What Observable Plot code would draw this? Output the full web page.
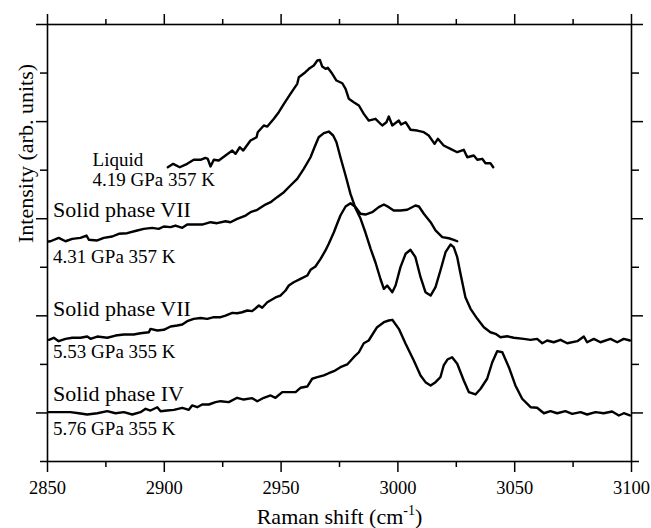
<!DOCTYPE html>
<html>
<head>
<meta charset="utf-8">
<script src="https://cdn.jsdelivr.net/npm/d3@7"></script>
<script src="https://cdn.jsdelivr.net/npm/@observablehq/plot@0.6"></script>
<style>
  html, body { margin: 0; padding: 0; background: #fff; }
</style>
</head>
<body>
<div id="chart"></div>
<script>
// Raman shift (cm-1) vs intensity (arb. units, offset spectra)
const liquid_419 = [
  [2901.5,303.0],[2903.8,306.5],[2906.6,303.0],[2909.8,306.5],[2912.6,310.7],[2915.5,310.7],[2917.6,312.7],[2918.6,311.7],
  [2919.8,303.8],[2921.2,310.7],[2923.3,309.9],[2926.2,315.1],[2929.1,320.2],[2930.5,316.8],[2932.3,323.6],[2933.8,320.2],
  [2936.9,330.5],[2939.5,333.9],[2940.0,339.1],[2942.6,346.0],[2944.1,344.9],[2946.9,352.9],[2949.0,359.7],[2951.2,368.3],
  [2954.0,378.6],[2956.9,388.9],[2957.6,395.7],[2960.4,400.9],[2961.9,404.4],[2964.0,407.8],[2965.5,412.9],[2966.6,413.6],
  [2967.6,406.7],[2969.0,404.4],[2970.0,405.4],[2971.9,399.2],[2973.7,392.3],[2976.2,389.5],[2977.6,383.8],[2979.0,373.5],
  [2981.1,370.0],[2983.3,366.6],[2985.4,358.0],[2987.5,351.1],[2990.4,352.9],[2993.3,346.0],[2995.1,349.4],[2996.1,355.2],
  [2997.6,346.0],[3000.4,351.1],[3001.4,347.0],[3003.3,349.4],[3005.4,341.6],[3008.3,340.8],[3011.1,339.1],[3013.2,335.7],
  [3015.7,327.1],[3017.1,332.3],[3019.6,325.4],[3022.5,322.0],[3025.4,318.5],[3028.2,321.0],[3029.7,313.3],[3032.5,315.1],
  [3034.0,310.7],[3036.1,311.7],[3037.5,307.2],[3039.6,307.2],[3040.8,303.0]
];
const solidVII_431 = [
  [2850.4,226.5],[2851.3,226.8],[2854.8,230.3],[2857.7,226.8],[2860.6,229.3],[2864.1,230.3],[2866.7,232.7],[2867.7,228.3],
  [2871.3,227.6],[2874.1,230.3],[2877.7,231.7],[2880.5,234.5],[2884.1,235.1],[2888.4,237.9],[2891.2,239.6],[2894.8,240.6],
  [2897.6,239.6],[2899.8,242.0],[2902.7,241.3],[2904.8,243.0],[2907.7,240.6],[2909.8,244.0],[2912.6,244.0],[2916.2,244.0],
  [2919.8,246.4],[2922.6,245.4],[2926.2,247.4],[2928.3,246.4],[2931.2,249.9],[2934.8,253.3],[2936.9,256.7],[2939.8,259.2],
  [2943.3,264.6],[2945.5,267.0],[2948.3,272.2],[2951.2,277.3],[2954.0,284.2],[2956.9,291.1],[2959.7,301.4],[2962.6,313.3],
  [2964.3,323.6],[2966.1,333.9],[2968.3,338.1],[2970.4,339.8],[2972.3,335.7],[2973.7,328.8],[2975.4,313.3],[2977.6,294.5],
  [2979.7,275.6],[2981.9,260.5],[2984.0,250.2],[2986.1,235.8],[2988.3,219.3],[2990.4,204.9],[2992.6,187.4],[2994.0,177.8],
  [2995.4,181.2],[2997.6,174.3],[2999.0,181.2],[3001.1,200.1],[3003.3,213.9],[3005.4,218.0],[3007.5,210.4],[3009.7,189.8],
  [3011.8,174.3],[3014.0,170.9],[3016.1,179.5],[3018.2,196.7],[3020.4,215.5],[3022.5,223.4],[3023.9,220.7],[3025.4,210.4],
  [3026.8,193.3],[3028.9,169.2],[3031.1,157.2],[3034.0,146.9],[3036.8,138.3],[3039.6,133.1],[3041.8,131.5],[3043.9,128.0],
  [3046.8,129.0],[3049.6,127.4],[3053.9,126.3],[3056.8,125.3],[3059.6,126.3],[3061.8,121.8],[3063.9,124.6],[3066.7,122.8],
  [3069.6,125.3],[3072.5,121.8],[3076.8,123.9],[3079.6,128.7],[3081.0,122.8],[3083.9,126.3],[3086.7,122.8],[3091.0,126.3],
  [3093.9,122.8],[3096.7,126.3],[3099.3,124.6]
];
const solidVII_553 = [
  [2850.6,125.3],[2852.7,127.4],[2854.8,123.9],[2857.7,126.3],[2860.6,127.4],[2864.1,127.4],[2867.0,128.7],[2868.4,126.3],
  [2871.3,128.7],[2875.6,127.4],[2879.1,129.7],[2882.7,130.8],[2886.9,130.8],[2889.8,132.1],[2893.4,133.1],[2894.1,136.6],
  [2897.0,134.9],[2899.8,135.6],[2902.7,139.0],[2905.5,140.0],[2907.7,141.1],[2909.8,144.5],[2912.6,146.9],[2915.5,147.8],
  [2918.4,146.9],[2921.2,148.6],[2924.1,148.6],[2926.2,150.3],[2929.1,153.1],[2931.2,152.7],[2933.3,153.7],[2935.5,155.5],
  [2937.6,154.8],[2940.5,160.6],[2941.9,158.3],[2944.1,164.0],[2947.6,168.9],[2949.7,170.9],[2951.9,176.1],[2953.3,181.2],
  [2955.4,184.6],[2958.3,188.1],[2961.2,191.5],[2962.6,197.4],[2964.7,200.8],[2966.9,208.7],[2969.0,217.3],[2970.4,224.2],
  [2972.6,236.1],[2974.0,244.8],[2975.4,253.3],[2977.6,262.6],[2979.7,266.0],[2981.9,261.9],[2984.0,255.1],[2986.1,254.3],
  [2989.0,256.7],[2991.8,261.9],[2994.0,264.6],[2996.1,261.9],[2998.2,258.5],[3001.1,258.5],[3004.0,259.2],[3007.5,263.6],
  [3009.0,262.6],[3011.1,255.1],[3014.0,246.4],[3016.1,237.9],[3019.0,231.0],[3021.8,229.9],[3023.9,228.3],[3025.4,226.8]
];
const solidIV_576 = [
  [2850.6,50.8],[2854.8,50.8],[2859.8,50.8],[2863.4,49.7],[2867.0,48.4],[2871.3,49.7],[2875.6,51.8],[2879.1,49.7],
  [2882.7,50.8],[2886.3,48.4],[2889.8,50.8],[2892.0,54.3],[2894.1,52.5],[2897.0,55.9],[2898.4,51.8],[2901.2,52.5],
  [2904.1,53.2],[2907.7,55.3],[2910.5,53.2],[2911.9,57.7],[2914.1,55.9],[2916.2,58.7],[2919.1,58.7],[2921.9,61.1],
  [2924.1,62.1],[2927.6,61.1],[2931.2,65.6],[2934.0,63.8],[2937.6,65.2],[2939.8,62.1],[2942.6,65.6],[2945.5,68.0],
  [2947.6,65.6],[2950.5,71.4],[2953.3,71.4],[2956.2,71.4],[2958.3,75.9],[2961.2,77.2],[2963.3,85.2],[2965.5,86.8],
  [2968.3,88.6],[2970.4,90.9],[2972.6,93.0],[2975.4,97.1],[2978.3,99.9],[2981.1,107.4],[2983.3,112.5],[2985.4,121.8],
  [2987.5,124.6],[2989.7,133.1],[2991.1,138.3],[2994.0,143.4],[2996.1,145.2],[2997.6,145.9],[3000.4,136.6],[3003.3,121.2],
  [3006.8,104.0],[3009.7,88.6],[3011.8,81.7],[3014.0,78.3],[3016.1,81.7],[3018.2,86.8],[3019.6,98.9],[3021.2,105.0],
  [3023.2,107.4],[3025.4,100.6],[3028.2,83.4],[3030.4,71.4],[3033.2,69.0],[3035.4,74.9],[3038.2,85.2],[3040.4,102.2],
  [3042.5,113.6],[3044.7,112.5],[3047.5,97.1],[3050.3,78.3],[3053.2,64.6],[3056.8,55.9],[3059.6,55.3],[3062.5,49.7],
  [3065.3,51.8],[3068.2,49.7],[3071.7,51.8],[3074.6,49.1],[3078.2,50.8],[3081.0,48.4],[3084.6,50.8],[3088.1,49.7],
  [3091.7,51.5],[3094.6,47.4],[3096.7,49.7],[3099.3,47.4]
];

const xTicks = [2850, 2900, 2950, 3000, 3050, 3100];
const xMinorTicks = [2875, 2925, 2975, 3025, 3075];
const yTicks = [50, 150, 250, 350, 450];
const yMinorTicks = [0, 100, 200, 300, 400];

const labelTexts = ["Liquid", "4.19 GPa 357 K", "Solid phase VII", "4.31 GPa 357 K",
                    "Solid phase VII", "5.53 GPa 355 K", "Solid phase IV", "5.76 GPa 355 K"];
const labelX = [2869.3, 2869.3, 2852.4, 2852.4, 2852.4, 2852.4, 2852.4, 2852.4];
const labelY = [304.8, 284.2, 251.6, 204.9, 150.3, 106.1, 62.8, 26.8];
const labelSize = [19, 19, 22, 19, 22, 19, 22, 19];

const seriesList = [
  ["Liquid 4.19 GPa", liquid_419],
  ["VII 4.31 GPa", solidVII_431],
  ["VII 5.53 GPa", solidVII_553],
  ["IV 5.76 GPa", solidIV_576]
];
const lineData = seriesList.flatMap(([name, pts]) => pts.map(([x, y]) => ({series: name, x, y})));
const labels = labelTexts.map((t, i) => ({text: t, x: labelX[i], y: labelY[i], size: labelSize[i]}));

const serif = "'Liberation Serif', 'Times New Roman', serif";
const xTitle = "Raman shift (cm-1)";

const chart = Plot.plot({
  width: 651,
  height: 528,
  marginLeft: 47,
  marginRight: 20,
  marginTop: 24,
  marginBottom: 67,
  style: {fontFamily: serif, background: "#fff", color: "#000", overflow: "visible"},
  x: {domain: [2850, 3100], label: null},
  y: {domain: [0, 450], label: null},
  marks: [
    Plot.line(lineData, {x: "x", y: "y", z: "series", stroke: "#000", strokeWidth: 2.4, strokeLinejoin: "round"}),
    Plot.text(labels, {x: "x", y: "y", text: "text", fontSize: d => d.size, textAnchor: "start", lineAnchor: "bottom", fill: "#000"}),
    // bottom axis: labelled major ticks + minor ticks
    Plot.axisX(xTicks, {anchor: "bottom", tickSize: 11, tickPadding: 8, fontSize: 18.5, tickFormat: d => String(d), strokeWidth: 1.5, label: null}),
    Plot.axisX(xMinorTicks, {anchor: "bottom", tickSize: 6, tickFormat: () => "", strokeWidth: 1.5, label: null}),
    // top axis ticks
    Plot.axisX(xTicks, {anchor: "top", tickSize: 11, tickFormat: () => "", strokeWidth: 1.5, label: null}),
    Plot.axisX(xMinorTicks, {anchor: "top", tickSize: 6, tickFormat: () => "", strokeWidth: 1.5, label: null}),
    // left axis ticks
    Plot.axisY(yTicks, {anchor: "left", tickSize: 11, tickFormat: () => "", strokeWidth: 1.5, label: null}),
    Plot.axisY(yMinorTicks, {anchor: "left", tickSize: 7, tickFormat: () => "", strokeWidth: 1.5, label: null}),
    // right axis ticks
    Plot.axisY(yTicks, {anchor: "right", tickSize: 11, tickFormat: () => "", strokeWidth: 1.5, label: null}),
    Plot.axisY(yMinorTicks, {anchor: "right", tickSize: 7, tickFormat: () => "", strokeWidth: 1.5, label: null}),
    Plot.frame({stroke: "#000", strokeWidth: 1.6}),
    // axis titles
    Plot.text(["Intensity (arb. units)"], {frameAnchor: "left", dx: -15, rotate: -90, lineAnchor: "bottom", fontSize: 22, fill: "#000"}),
    Plot.text([xTitle], {frameAnchor: "bottom", dy: 62, lineAnchor: "bottom", fontSize: 22, fill: "#000"})
  ]
});

// turn "-1" into a superscript
d3.select(chart).selectAll("text").each(function () {
  if (this.textContent === xTitle) {
    const t = d3.select(this);
    t.text(null);
    t.append("tspan").text("Raman shift (cm");
    t.append("tspan").attr("font-size", 14).attr("dy", -9).text("-1");
    t.append("tspan").attr("dy", 9).text(")");
  }
});

document.getElementById("chart").appendChild(chart);
</script>
</body>
</html>
